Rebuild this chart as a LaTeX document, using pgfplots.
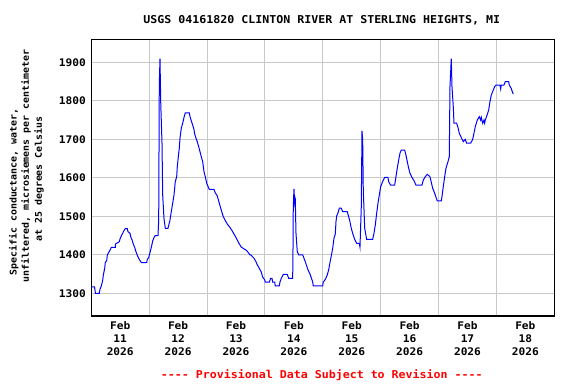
\documentclass[border=0pt]{standalone}
\usepackage{fontspec}
\setmainfont[FakeStretch=1.07]{DejaVu Sans Mono}
\usepackage{pgfplots}
\pgfplotsset{compat=1.18}
\definecolor{gridgray}{RGB}{200,200,200}
\begin{document}
\begin{tikzpicture}
\begin{axis}[
  scale only axis, width=463bp, height=276.7bp,
  xmin=0, xmax=192, ymin=1241, ymax=1960,
  xtick={12,36,60,84,108,132,156,180},
  xticklabels={{Feb\\11\\2026},{Feb\\12\\2026},{Feb\\13\\2026},{Feb\\14\\2026},{Feb\\15\\2026},{Feb\\16\\2026},{Feb\\17\\2026},{Feb\\18\\2026}},
  minor xtick={24,48,72,96,120,144,168},
  xminorgrids=true,
  ytick={1300,1400,1500,1600,1700,1800,1900},
  ymajorgrids=true,
  major tick length=0pt, minor tick length=0pt,
  grid style={gridgray, line width=1bp},
  minor grid style={gridgray, line width=1bp},
  axis line style={line width=1.1bp},
  /pgf/number format/assume math mode=true,
  /pgf/number format/set thousands separator={},
  tick label style={font=\fontsize{10.5}{12.9}\selectfont\bfseries},
  xticklabel style={align=center, yshift=-2bp},
  yticklabel style={xshift=-2bp},
]
\addplot[blue, line width=1bp] coordinates {
(0,1317)(1.3,1317)(1.5,1310)(1.7,1300)(3.32,1300)(3.6,1310)(4.15,1319)(4.73,1334)(4.98,1347)(5.56,1365)(5.8,1380)(6.39,1385)(6.63,1399)(7.21,1406)(7.75,1412)(8.29,1419)(9.95,1419)(10.0,1428)(11.6,1434)(11.9,1441)(12.44,1449)(13.02,1456)(13.56,1463)(14.1,1468)(14.93,1468)(15.22,1460)(16.05,1456)(16.34,1447)(16.88,1439)(17.42,1428)(18.0,1419)(18.53,1408)(19.07,1399)(19.65,1391)(20.19,1385)(20.73,1380)(22.97,1380)(23.22,1388)(23.8,1393)(24.34,1406)(24.88,1419)(25.46,1436)(26.0,1445)(26.54,1450)(27.66,1450)(27.95,1490)(28.2,1845)(28.49,1910)(28.78,1798)(29.32,1690)(29.61,1555)(30.14,1495)(30.68,1469)(31.8,1469)(32.63,1490)(33.17,1512)(33.75,1534)(34.29,1555)(34.83,1590)(35.41,1603)(35.66,1629)(36.24,1664)(36.49,1677)(36.78,1703)(37.32,1729)(37.9,1742)(38.44,1757)(38.98,1769)(40.64,1769)(40.93,1759)(41.47,1748)(42.05,1737)(42.58,1726)(42.87,1714)(43.41,1703)(43.95,1694)(44.53,1681)(45.07,1668)(45.61,1655)(46.19,1642)(46.73,1616)(47.27,1603)(47.85,1586)(48.93,1570)(50.88,1570)(51.42,1561)(52.25,1553)(53.08,1534)(53.91,1516)(54.73,1499)(55.56,1489)(56.39,1480)(57.51,1471)(58.34,1463)(59.17,1454)(60.0,1445)(61.12,1431)(62.2,1420)(64.44,1411)(65.81,1400)(66.1,1400)(67.46,1391)(68.29,1382)(68.83,1374)(69.66,1365)(70.49,1355)(71.07,1342)(71.9,1335)(72.15,1329)(73.81,1329)(74.39,1339)(74.93,1339)(75.22,1329)(76.05,1329)(76.29,1319)(77.95,1319)(78.24,1329)(78.78,1339)(79.61,1349)(81.27,1349)(81.85,1339)(83.51,1339)(83.64,1414)(83.76,1525)(84.05,1571)(84.34,1534)(84.59,1542)(84.88,1456)(85.42,1408)(86.0,1400)(87.66,1400)(88.2,1391)(88.74,1382)(89.32,1371)(89.86,1361)(90.69,1350)(91.22,1340)(91.8,1330)(92.05,1319)(95.95,1319)(96.2,1329)(97.03,1336)(97.86,1348)(98.44,1361)(98.98,1380)(99.52,1397)(100.1,1417)(100.64,1443)(101.18,1454)(101.47,1486)(101.76,1501)(102.3,1509)(102.84,1521)(103.67,1521)(104.25,1512)(106.15,1512)(106.73,1499)(107.27,1486)(107.81,1469)(108.39,1456)(109.22,1440)(110.05,1430)(111.13,1430)(111.42,1420)(111.96,1525)(112.25,1722)(112.54,1698)(112.79,1568)(113.37,1469)(114.19,1440)(116.68,1440)(117.22,1456)(117.76,1477)(118.34,1508)(118.88,1534)(119.42,1555)(120.0,1577)(120.54,1586)(121.08,1594)(121.66,1601)(123.03,1601)(123.32,1590)(124.15,1581)(125.8,1581)(126.34,1603)(126.88,1625)(127.46,1646)(128.0,1664)(128.54,1672)(129.95,1672)(130.49,1659)(131.03,1642)(131.61,1625)(132.15,1612)(132.98,1601)(133.81,1593)(134.64,1581)(137.13,1581)(137.66,1594)(138.49,1603)(139.32,1609)(140.44,1603)(141.56,1573)(142.39,1560)(143.47,1540)(145.13,1540)(145.42,1551)(145.96,1577)(146.54,1603)(147.08,1625)(147.91,1642)(148.45,1655)(148.74,1837)(149.28,1910)(149.57,1837)(150.11,1785)(150.4,1742)(151.51,1742)(152.05,1731)(152.59,1716)(153.42,1705)(154.25,1694)(155.08,1700)(155.66,1690)(157.32,1690)(158.15,1700)(158.69,1716)(159.23,1733)(160.06,1750)(160.89,1759)(161.47,1750)(161.72,1757)(162.3,1742)(162.83,1750)(163.12,1742)(163.37,1750)(163.95,1760)(164.78,1776)(165.32,1798)(165.86,1815)(166.69,1828)(167.27,1837)(167.81,1841)(169.47,1841)(169.76,1831)(170.01,1841)(171.13,1841)(171.67,1850)(173.08,1850)(173.33,1841)(174.16,1832)(174.74,1821)(174.98,1818)
};
\end{axis}
\node[font=\fontsize{10.9}{12}\selectfont\bfseries] at ([xshift=-1bp,yshift=19.5bp]current axis.north) {USGS 04161820 CLINTON RIVER AT STERLING HEIGHTS, MI};
\node[font=\fontsize{10.9}{12}\selectfont\bfseries, text=red] at ([xshift=-1bp,yshift=-59bp]current axis.south) {-{}-{}-{}- Provisional Data Subject to Revision -{}-{}-{}-};
\begin{scope}[every node/.style={font=\fontsize{9.3}{11}\selectfont\bfseries, rotate=90, inner sep=0pt}]
\node at ([xshift=-77.6bp, yshift=124bp]current axis.south west) {Specific conductance, water,};
\node at ([xshift=-65.3bp, yshift=150bp]current axis.south west) {unfiltered, microsiemens per centimeter};
\node at ([xshift=-52.3bp, yshift=137bp]current axis.south west) {at 25 degrees Celsius};
\end{scope}
\path[use as bounding box] ([xshift=-91.3bp,yshift=-68bp]current axis.south west) rectangle ++(576bp,384bp);
\end{tikzpicture}
\end{document}
